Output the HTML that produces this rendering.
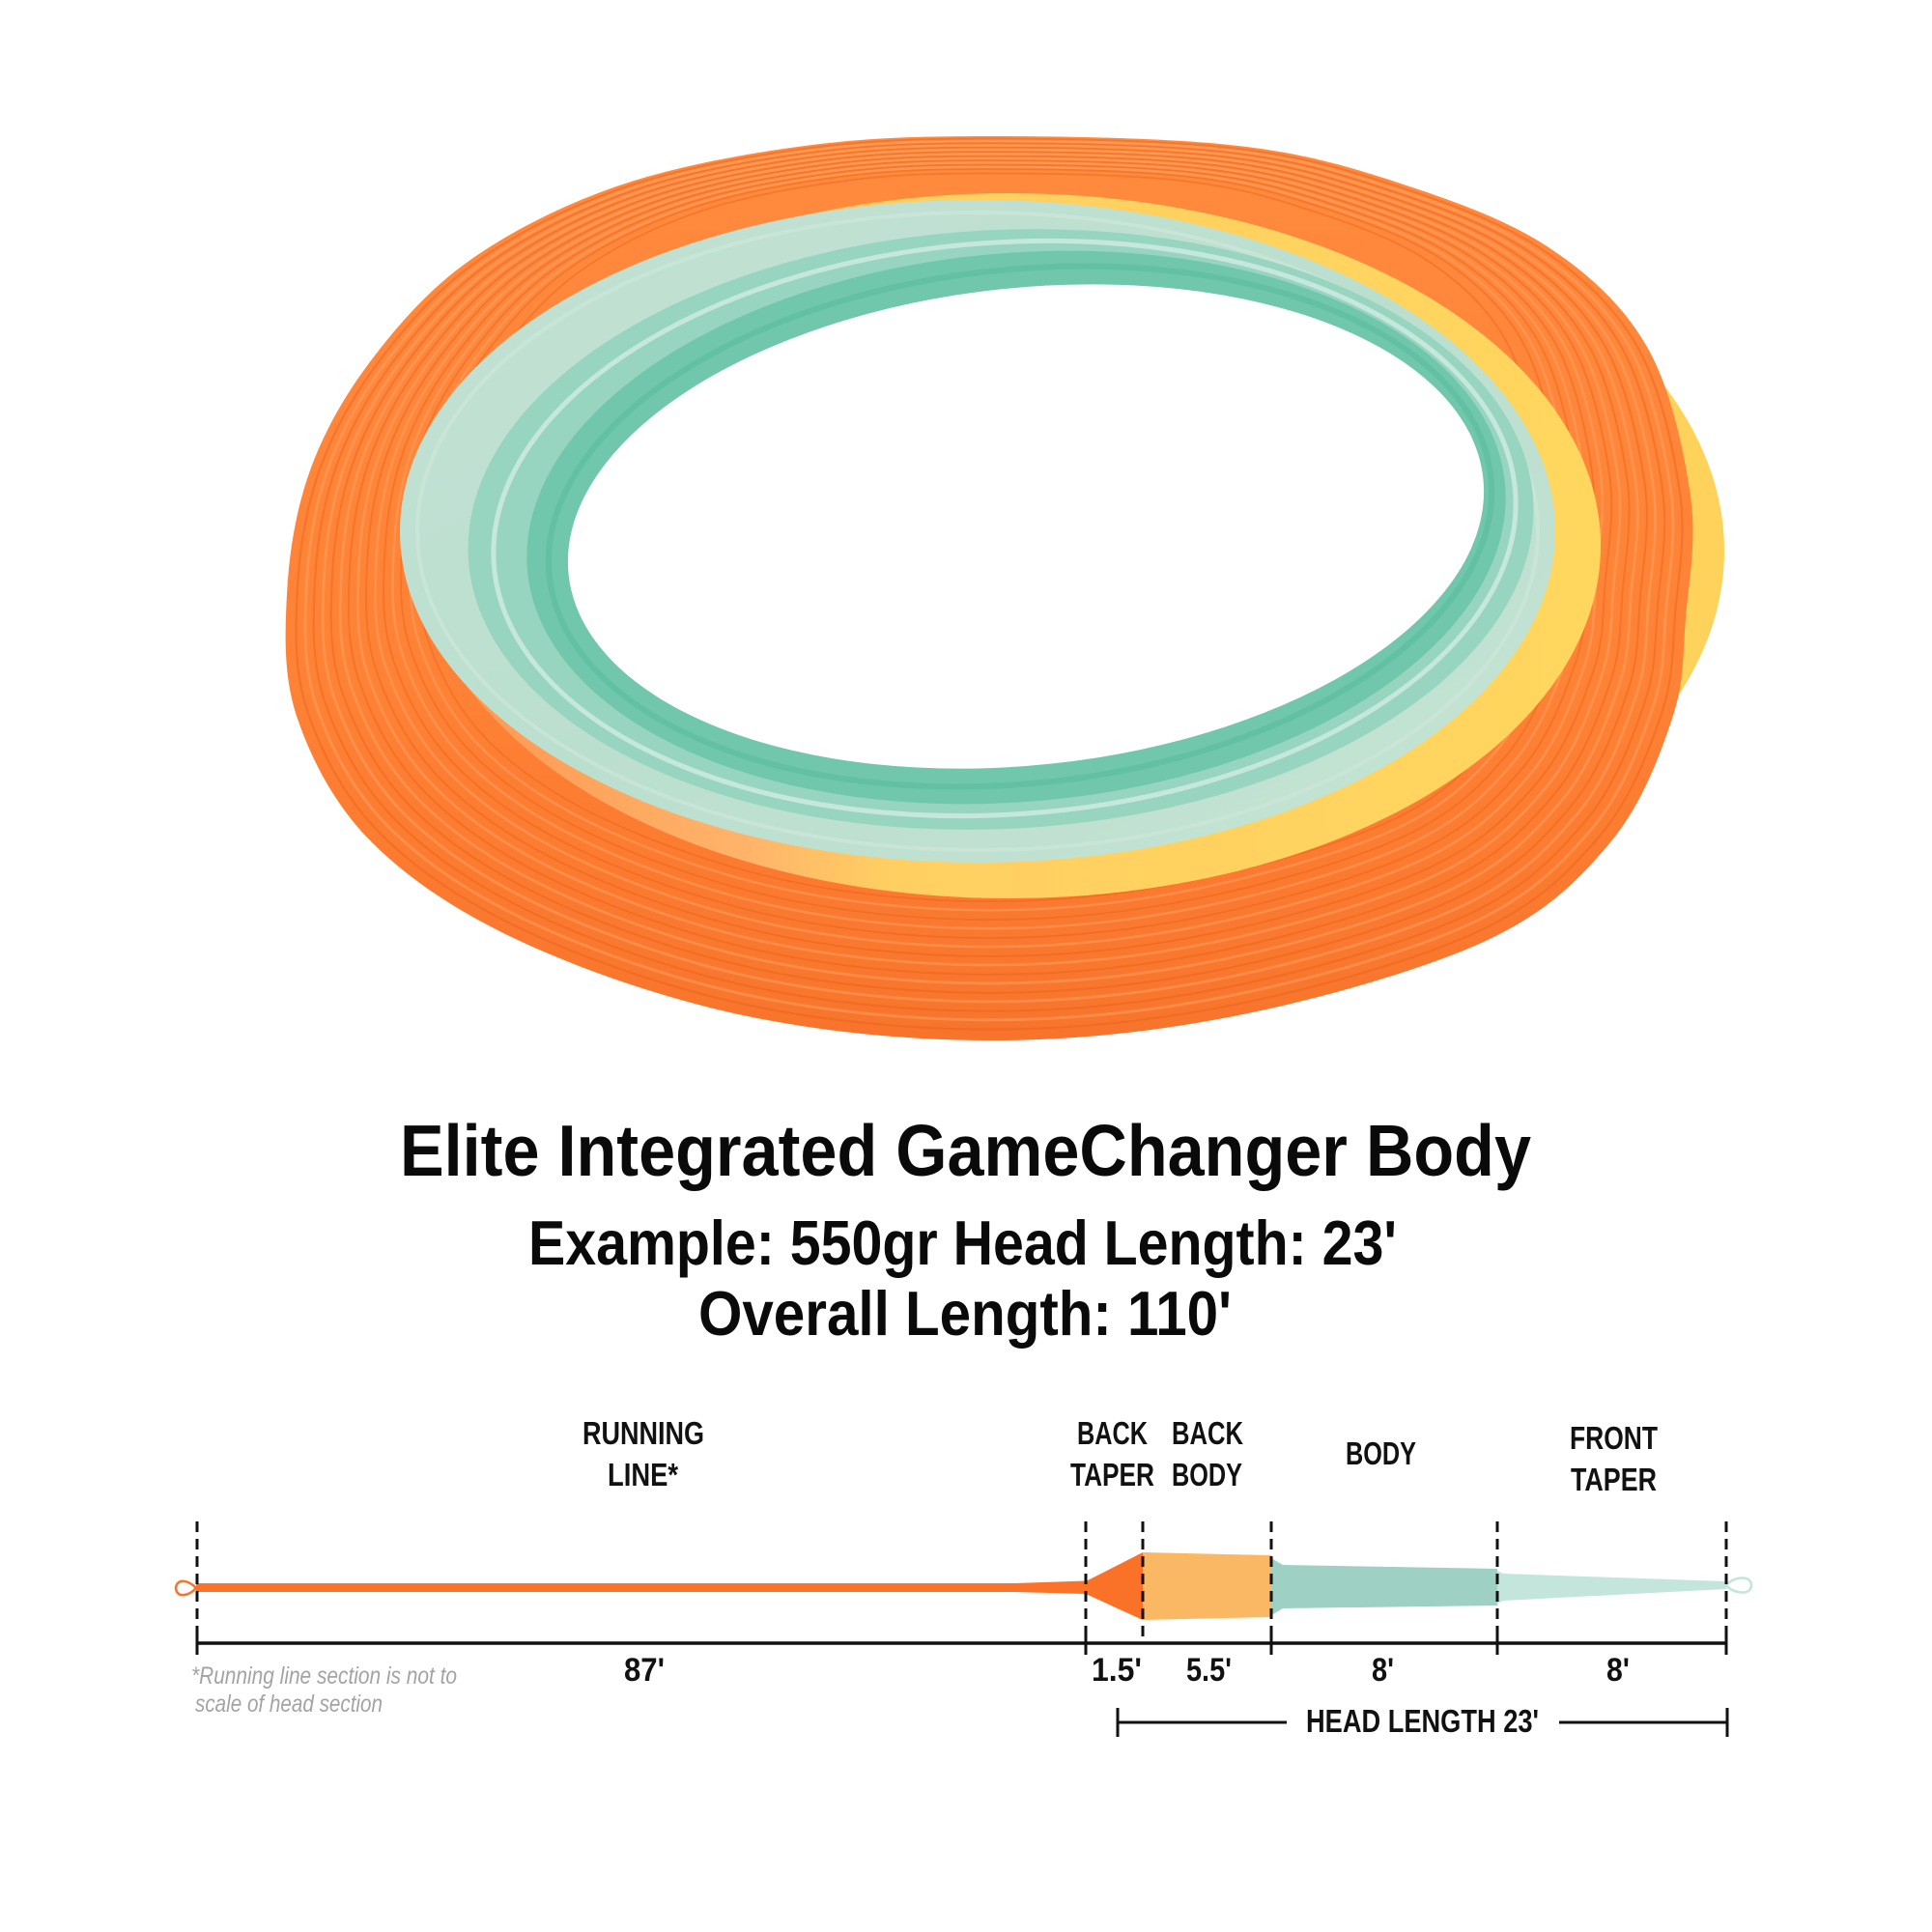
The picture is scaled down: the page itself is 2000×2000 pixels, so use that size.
<!DOCTYPE html>
<html><head><meta charset="utf-8"><style>
html,body{margin:0;padding:0;background:#fff;}
svg{display:block;}
text{font-family:"Liberation Sans",sans-serif;}
</style></head><body>
<svg width="2000" height="2000" viewBox="0 0 2000 2000" xmlns="http://www.w3.org/2000/svg">
<defs>
<linearGradient id="og" x1="0" y1="0" x2="0" y2="1">
<stop offset="0" stop-color="#FF8A3E"/><stop offset="0.6" stop-color="#FF8236"/><stop offset="1" stop-color="#F8742C"/></linearGradient>
<linearGradient id="yg" x1="0" y1="0" x2="1" y2="0">
<stop offset="0" stop-color="#FF9450"/><stop offset="0.28" stop-color="#FFB46A"/><stop offset="0.4" stop-color="#FFCF62"/><stop offset="1" stop-color="#FFD65E"/></linearGradient>
<linearGradient id="tg" x1="0" y1="0" x2="1" y2="1">
<stop offset="0" stop-color="#C3E2D4"/><stop offset="0.5" stop-color="#BBDFCF"/><stop offset="1" stop-color="#C5E3D3"/></linearGradient>
<path id="outer" d="M1026,141 C1100.8,141 1211.3,142.8 1282,151 C1352.7,159.2 1396.5,172.5 1450,190 C1503.5,207.5 1560.5,227.8 1603,256 C1645.5,284.2 1680.5,316.2 1705,359 C1729.5,401.8 1743.3,466.2 1750,513 C1756.7,559.8 1748.2,601.5 1745,640 C1741.8,678.5 1744,705.3 1731,744 C1718,782.7 1699.2,833.7 1667,872 C1634.8,910.3 1602.2,944.2 1538,974 C1473.8,1003.8 1367.3,1033.8 1282,1051 C1196.7,1068.2 1111.5,1077 1026,1077 C940.5,1077 850.3,1068.2 769,1051 C687.7,1033.8 602,1003.8 538,974 C474,944.2 423.3,910.3 385,872 C346.7,833.7 322.7,786.8 308,744 C293.3,701.2 294.8,657.8 297,615 C299.2,572.2 306.3,527.5 321,487 C335.7,446.5 357.3,408.3 385,372 C412.7,335.7 444.3,299 487,269 C529.7,239 583.3,211.7 641,192 C698.7,172.3 768.8,159.5 833,151 C897.2,142.5 951.2,141 1026,141 Z"/>
<clipPath id="oc"><use href="#outer"/></clipPath>
<clipPath id="rc"><rect x="1600" y="300" width="400" height="540"/></clipPath>
</defs>
<rect width="2000" height="2000" fill="#fff"/>

<!-- outer yellow strand on right -->
<ellipse cx="1065" cy="570" rx="720" ry="420" fill="#FFD25C" clip-path="url(#rc)"/>
<!-- outer orange -->
<use href="#outer" fill="url(#og)"/>
<g clip-path="url(#oc)" fill="none">
<g stroke="#E8611C" stroke-width="2.2" opacity="0.45">
<use href="#outer" transform="translate(1020,320) scale(0.985) translate(-1020,-320)"/>
<use href="#outer" transform="translate(1020,320) scale(0.96) translate(-1020,-320)"/>
<use href="#outer" transform="translate(1020,320) scale(0.935) translate(-1020,-320)"/>
<use href="#outer" transform="translate(1020,320) scale(0.91) translate(-1020,-320)"/>
<use href="#outer" transform="translate(1020,320) scale(0.885) translate(-1020,-320)"/>
<use href="#outer" transform="translate(1020,320) scale(0.86) translate(-1020,-320)"/>
<use href="#outer" transform="translate(1020,320) scale(0.835) translate(-1020,-320)"/>
<use href="#outer" transform="translate(1020,320) scale(0.81) translate(-1020,-320)"/>
<use href="#outer" transform="translate(1020,320) scale(0.785) translate(-1020,-320)"/>
</g>
<g stroke="#FFA868" stroke-width="3" opacity="0.45">
<use href="#outer" transform="translate(1020,320) scale(0.972) translate(-1020,-320)"/>
<use href="#outer" transform="translate(1020,320) scale(0.947) translate(-1020,-320)"/>
<use href="#outer" transform="translate(1020,320) scale(0.922) translate(-1020,-320)"/>
<use href="#outer" transform="translate(1020,320) scale(0.897) translate(-1020,-320)"/>
<use href="#outer" transform="translate(1020,320) scale(0.872) translate(-1020,-320)"/>
<use href="#outer" transform="translate(1020,320) scale(0.847) translate(-1020,-320)"/>
<use href="#outer" transform="translate(1020,320) scale(0.822) translate(-1020,-320)"/>
</g>
</g>

<!-- yellow ring -->
<ellipse cx="1045" cy="565" rx="612" ry="365" fill="url(#yg)"/>
<!-- light teal -->
<ellipse cx="1012" cy="550" rx="598" ry="343" fill="url(#tg)"/>
<ellipse cx="1012" cy="550" rx="580" ry="330" fill="none" stroke="#CFE8DC" stroke-width="4" opacity="0.6"/>
<!-- mid teal -->
<ellipse cx="1036" cy="548" rx="552" ry="310" fill="#98D5C0" transform="rotate(-3 1036 548)"/>
<ellipse cx="1040" cy="547" rx="530" ry="296" fill="none" stroke="#ffffff" stroke-width="5" opacity="0.45" transform="rotate(-4 1040 547)"/>
<!-- dark teal -->
<ellipse cx="1052" cy="546" rx="508" ry="284" fill="#70C7AB" transform="rotate(-5 1052 546)"/>
<ellipse cx="1056" cy="545" rx="490" ry="266" fill="none" stroke="#5DBE9F" stroke-width="6" opacity="0.7" transform="rotate(-6 1056 545)"/>
<!-- hole -->
<ellipse cx="1062" cy="545" rx="476" ry="247" fill="#ffffff" transform="rotate(-6 1062 545)"/>

<!-- Title -->
<text x="414" y="1217" textLength="1171" lengthAdjust="spacingAndGlyphs" font-size="75" font-weight="bold" fill="#0a0a0a">Elite Integrated GameChanger Body</text>
<text x="547" y="1309" textLength="899" lengthAdjust="spacingAndGlyphs" font-size="65" font-weight="bold" fill="#0a0a0a">Example: 550gr Head Length: 23'</text>
<text x="723" y="1382" textLength="552" lengthAdjust="spacingAndGlyphs" font-size="65" font-weight="bold" fill="#0a0a0a">Overall Length: 110'</text>

<!-- section labels -->
<g font-size="33" font-weight="bold" fill="#111">
<text x="603" y="1495" textLength="126" lengthAdjust="spacingAndGlyphs">RUNNING</text>
<text x="629" y="1538" textLength="73" lengthAdjust="spacingAndGlyphs">LINE*</text>
<text x="1115" y="1495" textLength="73" lengthAdjust="spacingAndGlyphs">BACK</text>
<text x="1108" y="1538" textLength="87" lengthAdjust="spacingAndGlyphs">TAPER</text>
<text x="1213" y="1495" textLength="74" lengthAdjust="spacingAndGlyphs">BACK</text>
<text x="1213" y="1538" textLength="73" lengthAdjust="spacingAndGlyphs">BODY</text>
<text x="1393" y="1516" textLength="73" lengthAdjust="spacingAndGlyphs">BODY</text>
<text x="1625" y="1500" textLength="91" lengthAdjust="spacingAndGlyphs">FRONT</text>
<text x="1626" y="1543" textLength="89" lengthAdjust="spacingAndGlyphs">TAPER</text>
</g>

<!-- line diagram -->
<path d="M203,1639 L1050,1639 L1124,1636.5 L1124,1650 L1050,1648 L203,1648 Z" fill="#FA7328"/>
<path d="M203,1644 C196,1636 183,1633 182,1644 C183,1655 196,1652 203,1644 Z" fill="none" stroke="#FA7328" stroke-width="2.6"/>
<polygon points="1124,1637 1183,1607 1183,1677 1124,1650" fill="#FA7227"/>
<polygon points="1183,1607 1316,1610 1316,1674 1183,1677" fill="#FAB864"/>
<polygon points="1316,1613 1328,1620 1550,1624 1550,1662 1328,1665 1316,1672" fill="#9ED0C4"/>
<polygon points="1550,1626 1556,1629 1787,1637 1787,1645 1556,1657 1550,1660" fill="#C3E5DC"/>
<path d="M1787,1641 C1794,1632 1813,1630 1813,1641 C1813,1652 1794,1650 1787,1641 Z" fill="none" stroke="#C3E5DC" stroke-width="2.6"/>

<g stroke="#111" stroke-width="3" stroke-dasharray="11 7">
<line x1="204" y1="1575" x2="204" y2="1700"/>
<line x1="1124" y1="1575" x2="1124" y2="1700"/>
<line x1="1183" y1="1575" x2="1183" y2="1700"/>
<line x1="1316" y1="1575" x2="1316" y2="1700"/>
<line x1="1550" y1="1575" x2="1550" y2="1700"/>
<line x1="1787" y1="1575" x2="1787" y2="1700"/>
</g>
<line x1="204" y1="1701" x2="1787" y2="1701" stroke="#111" stroke-width="3.5"/>
<g stroke="#111" stroke-width="3">
<line x1="204" y1="1689" x2="204" y2="1713"/>
<line x1="1124" y1="1689" x2="1124" y2="1713"/>
<line x1="1316" y1="1689" x2="1316" y2="1713"/>
<line x1="1550" y1="1689" x2="1550" y2="1713"/>
<line x1="1787" y1="1689" x2="1787" y2="1713"/>
</g>

<g font-size="34" font-weight="bold" fill="#111">
<text x="646" y="1740" textLength="42" lengthAdjust="spacingAndGlyphs">87'</text>
<text x="1130" y="1740" textLength="52" lengthAdjust="spacingAndGlyphs">1.5'</text>
<text x="1228" y="1740" textLength="47" lengthAdjust="spacingAndGlyphs">5.5'</text>
<text x="1420" y="1740" textLength="23" lengthAdjust="spacingAndGlyphs">8'</text>
<text x="1663" y="1740" textLength="24" lengthAdjust="spacingAndGlyphs">8'</text>
<text x="1352" y="1793" textLength="241" lengthAdjust="spacingAndGlyphs" font-size="33">HEAD LENGTH 23'</text>
</g>

<g stroke="#111" stroke-width="3">
<line x1="1157" y1="1783" x2="1332" y2="1783"/>
<line x1="1157" y1="1768" x2="1157" y2="1798"/>
<line x1="1614" y1="1783" x2="1788" y2="1783"/>
<line x1="1788" y1="1768" x2="1788" y2="1798"/>
</g>

<g font-size="25" font-style="italic" fill="#A3A3A3">
<text x="198" y="1743" textLength="275" lengthAdjust="spacingAndGlyphs">*Running line section is not to</text>
<text x="202" y="1772" textLength="194" lengthAdjust="spacingAndGlyphs">scale of head section</text>
</g>
</svg>
</body></html>
